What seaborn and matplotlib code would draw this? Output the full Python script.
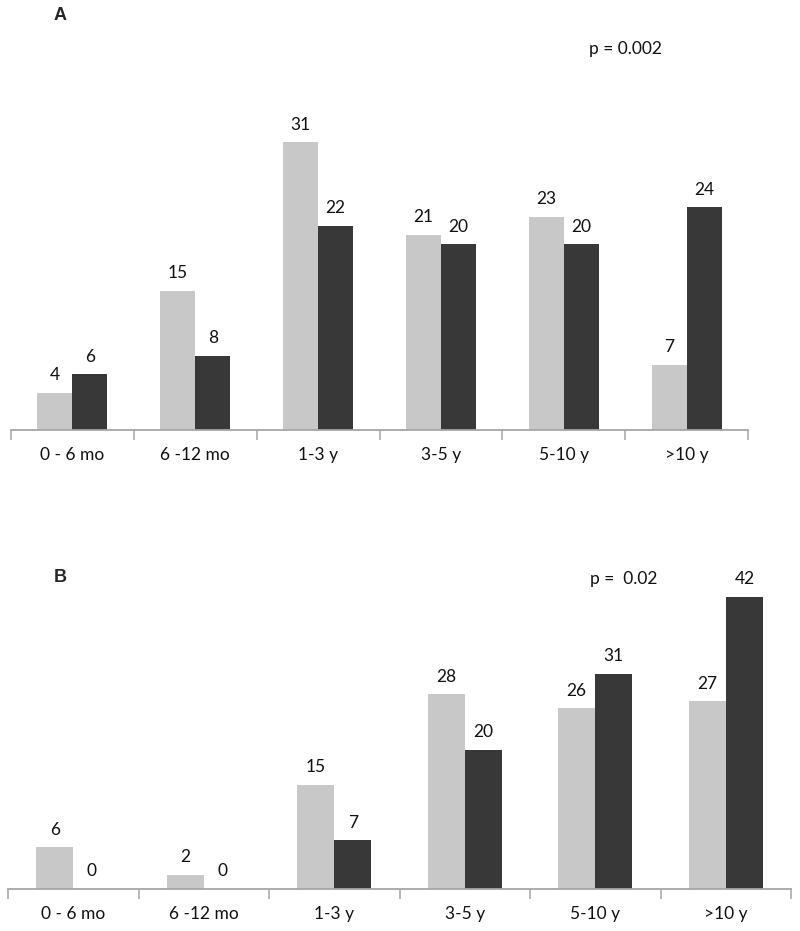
import numpy as np
import pandas as pd
import seaborn as sns
import matplotlib.pyplot as plt

sns.set_style("white")
plt.rcParams['font.family'] = ['Lato', 'DejaVu Sans']

categories = ["0 - 6 mo", "6 -12 mo", "1-3 y", "3-5 y", "5-10 y", ">10 y"]
series_names = ["Group 1", "Group 2"]

# panel A
a_light = [4, 15, 31, 21, 23, 7]
a_dark = [6, 8, 22, 20, 20, 24]
# panel B
b_light = [6, 2, 15, 28, 26, 27]
b_dark = [0, 0, 7, 20, 31, 42]

colors = ["#c8c8c8", "#383838"]
axis_gray = "#a6a6a6"


def make_df(light, dark):
    return pd.DataFrame({
        "cat": categories * 2,
        "series": [series_names[0]] * 6 + [series_names[1]] * 6,
        "value": list(light) + list(dark),
    })


def draw_panel(ax, df, ymax):
    sns.barplot(data=df, x="cat", y="value", hue="series", order=categories,
                hue_order=series_names, palette=colors, saturation=1,
                width=0.57, linewidth=0, legend=False, ax=ax)
    for c in ax.containers:
        ax.bar_label(c, padding=7, fontsize=12.5, color="#111111")
    ax.set_xlim(-0.5, 5.5)
    ax.set_ylim(0, ymax)
    ax.set_xlabel("")
    ax.set_ylabel("")
    ax.set_yticks([])
    for s in ["top", "right", "left"]:
        ax.spines[s].set_visible(False)
    ax.spines["bottom"].set_color(axis_gray)
    ax.spines["bottom"].set_linewidth(1.3)
    ax.set_xticks(np.arange(-0.5, 6, 1), minor=True)
    ax.tick_params(axis="x", which="major", length=0, pad=12, labelsize=12.5,
                   labelcolor="#111111")
    ax.tick_params(axis="x", which="minor", length=7, width=1.1, color=axis_gray,
                   direction="out", bottom=True)


W, H = 800, 931
fig = plt.figure(figsize=(8, 9.31), dpi=100)

ax_a = fig.add_axes([11 / W, 1 - 430 / H, 737 / W, 330 / H])
draw_panel(ax_a, make_df(a_light, a_dark), 330 / 9.28)

ax_b = fig.add_axes([8 / W, 1 - 889 / H, 783 / W, 319 / H])
draw_panel(ax_b, make_df(b_light, b_dark), 319 / 6.95)

fig.text(60 / W, 1 - 15 / H, "A", ha="center", va="center", fontsize=13,
         fontweight="bold", family="Liberation Sans")
fig.text(60 / W, 1 - 577 / H, "B", ha="center", va="center", fontsize=13,
         fontweight="bold", family="Liberation Sans")
fig.text(589 / W, 1 - 49 / H, "p = 0.002", ha="left", va="center", fontsize=12.5,
         color="#111111")
fig.text(590 / W, 1 - 579 / H, "p =  0.02", ha="left", va="center", fontsize=12.5,
         color="#111111")

fig.savefig("out.png", dpi=100)
